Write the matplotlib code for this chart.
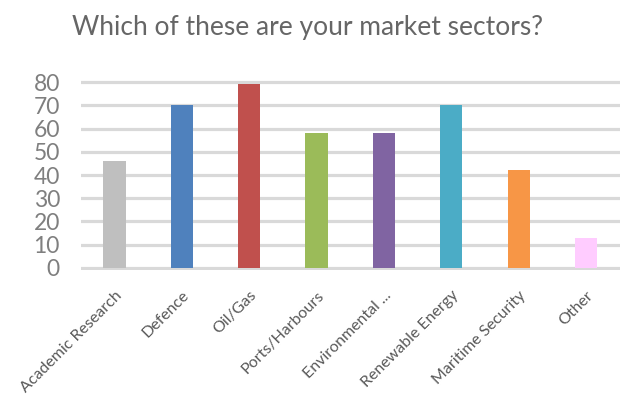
import matplotlib
matplotlib.use('Agg')
import matplotlib.pyplot as plt
import numpy as np

plt.rcParams['font.family'] = ['Lato', 'DejaVu Sans']

sectors = ["Academic Research", "Defence", "Oil/Gas", "Ports/Harbours",
           "Environmental ...", "Renewable Energy", "Maritime Security", "Other"]
counts = [46, 70, 79, 58, 58, 70, 42, 13]
colors = ["#BFBFBF", "#4F81BD", "#C0504D", "#9BBB59",
          "#8064A2", "#4BACC6", "#F79646", "#FFCCFF"]
yticks = [0, 10, 20, 30, 40, 50, 60, 70, 80]

fig = plt.figure(figsize=(6.21, 3.99), dpi=100)
ax = fig.add_axes([0.130, 0.3225, 0.868, 0.4778])

x = np.arange(len(sectors))
ax.bar(x, counts, width=0.33, color=colors, zorder=3)

ax.set_xlim(-0.5, len(sectors) - 0.5)
ax.set_ylim(-1, 81)
ax.set_yticks(yticks)
ax.set_yticklabels([str(t) for t in yticks], fontsize=16.5, color="#7F7F7F")
ax.tick_params(axis='y', length=0, pad=15)
ax.yaxis.grid(True, color="#D9D9D9", linewidth=2.3, zorder=0)
ax.set_axisbelow(True)

ax.set_xticks(x)
ax.set_xticklabels(sectors, rotation=45, ha='right', rotation_mode='anchor',
                   fontsize=11.5, color="#595959")
ax.tick_params(axis='x', length=0, pad=13)

for s in ax.spines.values():
    s.set_visible(False)

fig.text(0.495, 0.932, "Which of these are your market sectors?", ha='center', va='center',
         fontsize=19, color="#666666")

plt.savefig('out.png', dpi=100)
